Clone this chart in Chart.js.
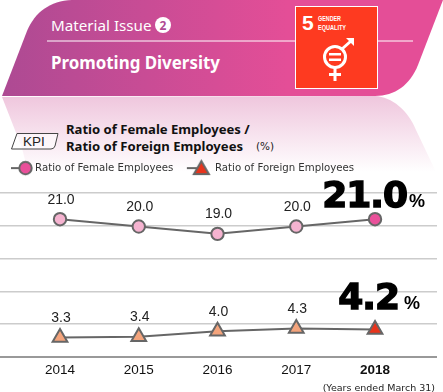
<!DOCTYPE html>
<html>
<head>
<meta charset="utf-8">
<style>
  html, body { margin: 0; padding: 0; background: #fff; }
  #wrap { position: relative; width: 443px; height: 392px; overflow: hidden; }
  #head { position: absolute; left: 0; top: 0; }
  #chartBox { position: absolute; left: 0; top: 0; width: 443px; height: 392px; }
  #note { position: absolute; right: 8px; top: 382px; font: 9.5px "DejaVu Sans", sans-serif; color: #222; white-space: nowrap; }
</style>
</head>
<body>
<div id="wrap">
  <!-- banner above the chart -->
  <svg id="head" width="443" height="392" xmlns="http://www.w3.org/2000/svg">
    <defs>
      <linearGradient id="band" x1="0" x2="1" y1="0" y2="0">
        <stop offset="0" stop-color="#ad4a93"/>
        <stop offset="0.65" stop-color="#e44e97"/>
        <stop offset="1" stop-color="#e44e97"/>
      </linearGradient>
      <linearGradient id="mirror" x1="0" x2="0" y1="0" y2="1">
        <stop offset="0" stop-color="#efc6dd"/>
        <stop offset="1" stop-color="#ffffff"/>
      </linearGradient>
    </defs>
    <path d="M2 97 L22 148 L28 172 L436 172 L416 130 C408 110 392 97 375 96 Z" fill="url(#mirror)"/>
    <path d="M2 96 L27 31 C35 12 50 1 72 0 L443 0 L418 65 C410 85 395 96 375 96 Z" fill="url(#band)"/>
    <line x1="47" y1="41" x2="413" y2="41" stroke="#fff" stroke-width="1"/>
    <text x="51" y="31" font-family="Noto Sans" font-size="15.2" fill="#fff">Material Issue</text>
    <circle cx="163" cy="25" r="8" fill="#fff"/>
    <text x="163" y="29.5" text-anchor="middle" font-family="Noto Sans" font-weight="700" font-size="12" fill="#b04a94">2</text>
    <text x="51" y="69" font-family="Noto Sans" font-weight="700" font-size="16.9" fill="#fff">Promoting Diversity</text>
    <!-- SDG icon -->
    <rect x="295.5" y="6.5" width="82" height="82" fill="#fe3a20" stroke="#fff"/>
    <text x="302" y="30" font-family="Liberation Sans Narrow, Liberation Sans" font-weight="700" font-size="21" fill="#fff">5</text>
    <text x="318" y="21" font-family="Liberation Sans Narrow, Liberation Sans" font-weight="700" font-size="8" fill="#fff" textLength="23" lengthAdjust="spacingAndGlyphs">GENDER</text>
    <text x="318" y="30" font-family="Liberation Sans Narrow, Liberation Sans" font-weight="700" font-size="8" fill="#fff" textLength="28" lengthAdjust="spacingAndGlyphs">EQUALITY</text>
    <circle cx="335" cy="57" r="10.5" fill="none" stroke="#fff" stroke-width="3"/>
    <rect x="329" y="53" width="12" height="2.5" fill="#fff"/>
    <rect x="329" y="58.5" width="12" height="2.5" fill="#fff"/>
    <rect x="333.5" y="68" width="3" height="13" fill="#fff"/>
    <rect x="329" y="73" width="12" height="3" fill="#fff"/>
    <line x1="342" y1="49" x2="351" y2="41" stroke="#fff" stroke-width="3"/>
    <path d="M346 38 L354 38 L354 46 Z" fill="#fff"/>
    <!-- KPI tag and title -->
    <path d="M11.5 149 L17 133.5 L58 133.5 L55 146 Q54 149 51 149 Z" fill="#fff" fill-opacity="0.6" stroke="#444"/>
    <text x="34" y="146" text-anchor="middle" font-family="Liberation Sans" font-size="13.5" fill="#222">KPI</text>
    <text x="66" y="134" font-family="Noto Sans" font-weight="700" font-size="13.1" fill="#111">Ratio of Female Employees /</text>
    <text x="66" y="151" font-family="Noto Sans" font-weight="700" font-size="13.1" fill="#111">Ratio of Foreign Employees</text>
    <text x="256" y="150" font-family="DejaVu Sans" font-size="10.5" fill="#222">(%)</text>
  </svg>
  <div id="chartBox"><canvas id="canvas"></canvas></div>
  <div id="note">(Years ended March 31)</div>
</div>

<script src="https://cdn.jsdelivr.net/npm/chart.js@4"></script>
<script>
const years = [2014, 2015, 2016, 2017, 2018];
const female = [21.0, 20.0, 19.0, 20.0, 21.0];
const foreign = [3.3, 3.4, 4.0, 4.3, 4.2];
const femaleLabel = "Ratio of Female Employees";
const foreignLabel = "Ratio of Foreign Employees";

const GREY = "#666666";
const lastYear = years[years.length - 1];

// legend marker = short line stub + the point shape
function makeMarker(stubFrom, stubTo, draw) {
  const c = document.createElement("canvas");
  c.width = 44;
  c.height = 20;
  const g = c.getContext("2d");
  g.strokeStyle = GREY;
  g.lineWidth = 2;
  g.beginPath();
  g.moveTo(stubFrom, 10);
  g.lineTo(stubTo, 10);
  g.stroke();
  draw(g);
  return c;
}

const femaleMarker = makeMarker(12, 24, (g) => {
  g.fillStyle = "#e9509a";
  g.beginPath();
  g.arc(26.5, 10, 6.2, 0, Math.PI * 2);
  g.fill();
  g.stroke();
});

const foreignMarker = makeMarker(8, 20, (g) => {
  g.fillStyle = "#e8341c";
  g.beginPath();
  g.moveTo(22.5, 3);
  g.lineTo(30, 16);
  g.lineTo(15, 16);
  g.closePath();
  g.fill();
  g.stroke();
});

// extra room under the legend
const legendGap = {
  id: "legendGap",
  beforeInit(chart) {
    const fit = chart.legend.fit;
    chart.legend.fit = function () {
      fit.call(this);
      this.height += 10;
    };
  },
};

// value labels over the points + the big numbers for the last year
const pointLabels = {
  id: "pointLabels",
  afterDatasetsDraw(chart) {
    const g = chart.ctx;
    g.save();
    g.textBaseline = "middle";
    chart.data.datasets.forEach((ds, d) => {
      const pts = chart.getDatasetMeta(d).data;
      const values = d === 0 ? female : foreign;
      values.forEach((v, i) => {
        if (i === values.length - 1) return;
        g.font = '14px "Liberation Sans"';
        g.fillStyle = "#222";
        g.textAlign = "center";
        g.fillText(v.toFixed(1), pts[i].x + 1, pts[i].y - 19.5);
      });

      const end = pts[pts.length - 1];
      const bigX = d === 0 ? end.x + 32 : end.x + 24;
      const bigY = d === 0 ? end.y - 22 : end.y - 30;
      const bigText = values[values.length - 1].toFixed(1);
      g.textAlign = "right";
      g.fillStyle = "#000";
      g.strokeStyle = "#000";
      g.lineWidth = 1.5;
      g.font = 'bold 36px "DejaVu Sans"';
      g.letterSpacing = "-1px";
      g.fillText(bigText, bigX, bigY);
      g.strokeText(bigText, bigX, bigY);
      g.letterSpacing = "0px";
      g.textAlign = "left";
      g.font = 'bold 18px "Liberation Sans"';
      g.fillText("%", bigX + (d === 0 ? 2 : 5), bigY + 5);
    });
    g.restore();
  },
};

const ctx = document.getElementById("canvas").getContext("2d");

new Chart(ctx, {
  type: "line",
  data: {
    datasets: [
      {
        label: femaleLabel,
        data: years.map((y, i) => ({ x: y, y: female[i] })),
        yAxisID: "yFemale",
        borderColor: GREY,
        borderWidth: 2,
        tension: 0,
        pointStyle: "circle",
        pointRadius: 6.2,
        pointBorderWidth: 2,
        pointBorderColor: GREY,
        pointBackgroundColor: (c) => (c.raw && c.raw.x === lastYear ? "#e9509a" : "#f5b3d0"),
      },
      {
        label: foreignLabel,
        data: years.map((y, i) => ({ x: y, y: foreign[i] })),
        yAxisID: "yForeign",
        borderColor: GREY,
        borderWidth: 2,
        tension: 0,
        pointStyle: "triangle",
        pointRadius: 8.5,
        pointBorderWidth: 2,
        pointBorderColor: GREY,
        pointBackgroundColor: (c) => (c.raw && c.raw.x === lastYear ? "#e8341c" : "#f4a47c"),
      },
    ],
  },
  options: {
    responsive: true,
    maintainAspectRatio: false,
    animation: false,
    layout: {
      autoPadding: false,
      padding: { top: 151, right: 6, bottom: 9, left: 0 },
    },
    plugins: {
      tooltip: { enabled: false },
      legend: {
        position: "top",
        align: "start",
        labels: {
          usePointStyle: true,
          pointStyleWidth: 18,
          padding: 12,
          color: "#333",
          font: { size: 10.2, family: '"DejaVu Sans", sans-serif' },
          generateLabels(chart) {
            const items = Chart.defaults.plugins.legend.labels.generateLabels(chart);
            items[0].pointStyle = femaleMarker;
            items[0].text = femaleLabel + "  ";
            items[1].pointStyle = foreignMarker;
            return items;
          },
        },
      },
    },
    scales: {
      x: {
        type: "linear",
        min: 2013.238,
        max: 2018.787,
        afterBuildTicks(scale) {
          scale.ticks = years.map((y) => ({ value: y }));
        },
        grid: { display: false, drawTicks: false },
        border: { display: false },
        ticks: {
          padding: 5,
          autoSkip: false,
          maxRotation: 0,
          color: "#111",
          callback: (v) => String(v),
          font: (c) => ({
            size: 13.5,
            family: '"Liberation Sans", sans-serif',
            weight: c.tick && c.tick.value === lastYear ? "bold" : "normal",
          }),
        },
      },
      // only here for the horizontal lines
      yGrid: {
        axis: "y",
        position: "left",
        min: 0,
        max: 5,
        afterFit(scale) {
          scale.width = 0;
        },
        border: { display: false },
        ticks: { display: false, stepSize: 1 },
        grid: {
          drawTicks: false,
          lineWidth: (c) => (c.tick.value === 0 ? 2 : 1.5),
          color: (c) => (c.tick.value === 0 ? "#999" : "#ccc"),
        },
      },
      // the axis is broken in the picture so each series has its own range
      yFemale: { axis: "y", display: false, min: 2.2, max: 24.55 },
      yForeign: { axis: "y", display: false, min: 1.19, max: 19.19 },
    },
  },
  plugins: [legendGap, pointLabels],
});
</script>
</body>
</html>
